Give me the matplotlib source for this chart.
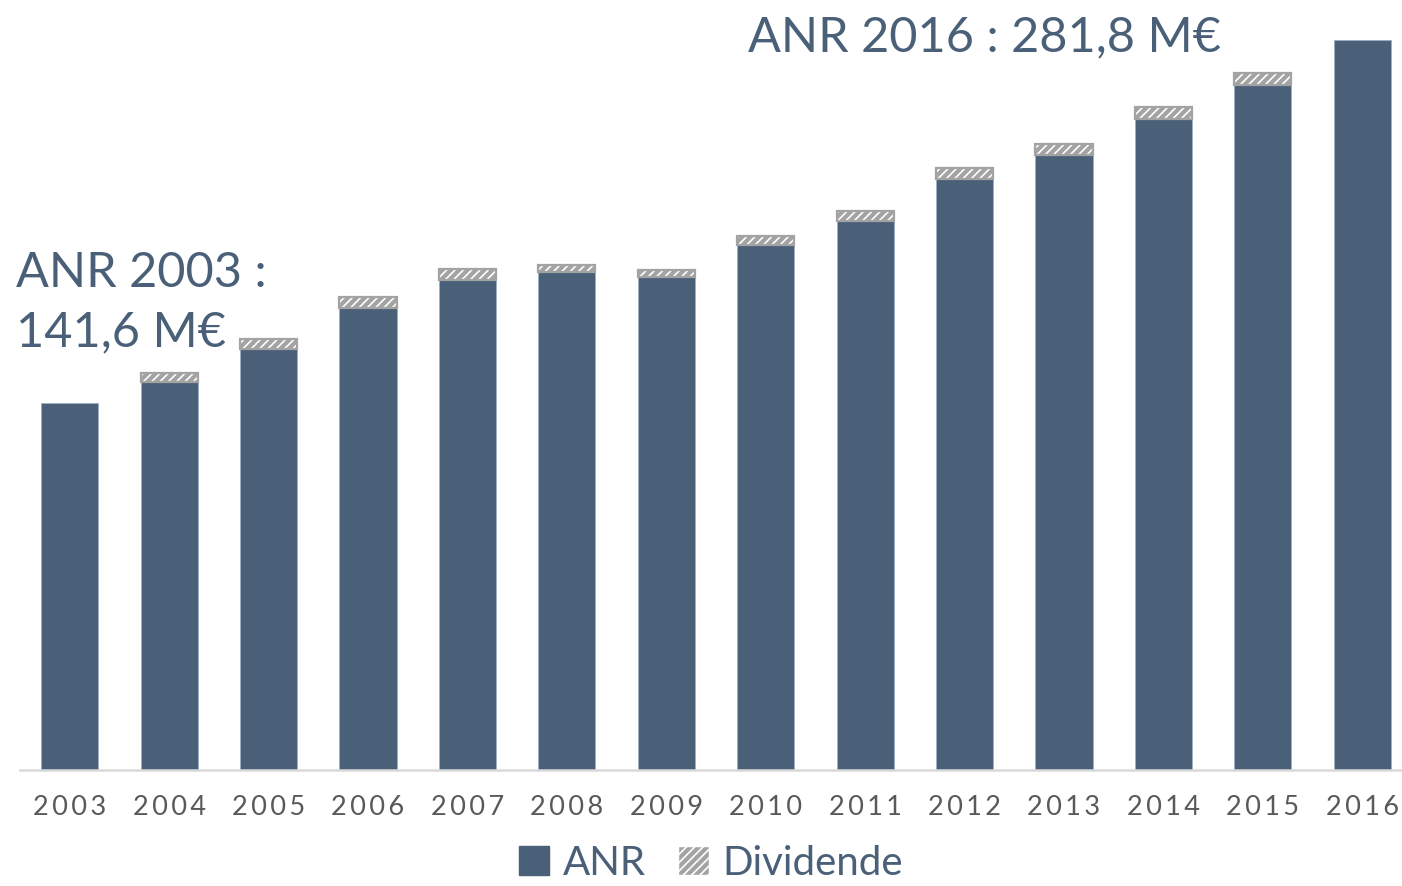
import matplotlib.pyplot as plt
from matplotlib.patches import Patch

# ---- Data (M€) ----
years = ["2003", "2004", "2005", "2006", "2007", "2008", "2009",
         "2010", "2011", "2012", "2013", "2014", "2015", "2016"]
anr = [141.6, 149.6, 162.3, 178.2, 189.0, 192.0, 190.1,
       202.5, 211.8, 228.0, 237.2, 251.2, 264.3, 281.8]
dividende = [0.0, 3.5, 3.9, 4.2, 4.2, 2.8, 2.7,
             3.5, 4.0, 4.1, 4.2, 4.6, 4.7, 0.0]

blue = "#4a6079"
grey = "#a3a3a3"
plt.rcParams['font.family'] = ['Lato', 'DejaVu Sans']
plt.rcParams['hatch.linewidth'] = 1.2

fig = plt.figure(figsize=(14.02, 8.86), dpi=100)
ax = fig.add_axes([20 / 1402, 1 - 770 / 886, 1 - 20 / 1402, 762 / 886])

x = list(range(len(years)))
w = 0.575
ax.bar(x, anr, width=w, color=blue, edgecolor="#9fb0c2", linewidth=0.7)
ax.bar(x, dividende, width=w, bottom=anr, color=grey, edgecolor="white",
       hatch="////", linewidth=0)
# border around the dividend part
for i in x:
    if dividende[i] > 0:
        ax.bar(i, dividende[i], width=w, bottom=anr[i], fill=False,
               edgecolor=grey, linewidth=1.6)

ax.set_xlim(-0.5, 13.4)
ax.set_ylim(0, 762 / 2.592)
for s in ["top", "right", "left"]:
    ax.spines[s].set_visible(False)
ax.spines["bottom"].set_color("#d9d9d9")
ax.spines["bottom"].set_linewidth(1.8)
ax.set_yticks([])
ax.set_xticks(x)
ax.set_xticklabels(["\u2009".join(y) for y in years], fontsize=19.5,
                   color="#595959")
ax.tick_params(axis="x", length=0, pad=18)

# ---- Annotations ----
fig.text(748 / 1402, 1 - 51 / 886, "ANR 2016 : 281,8 M€", fontsize=35,
         color=blue, ha="left", va="baseline")
fig.text(16 / 1402, 1 - 287 / 886, "ANR 2003 :", fontsize=35,
         color=blue, ha="left", va="baseline")
fig.text(16 / 1402, 1 - 346 / 886, "141,6 M€", fontsize=35,
         color=blue, ha="left", va="baseline")

handles = [Patch(facecolor=blue, edgecolor=blue, label="ANR"),
           Patch(facecolor=grey, edgecolor="white", hatch="////",
                 label="Dividende")]
leg = fig.legend(handles=handles, loc="lower center",
                 bbox_to_anchor=(711 / 1402, -0.036), ncol=2, frameon=False,
                 fontsize=29, handlelength=0.75, handleheight=0.75,
                 handletextpad=0.35, columnspacing=0.8)
for t in leg.get_texts():
    t.set_color(blue)

fig.savefig("out.png", dpi=100)
